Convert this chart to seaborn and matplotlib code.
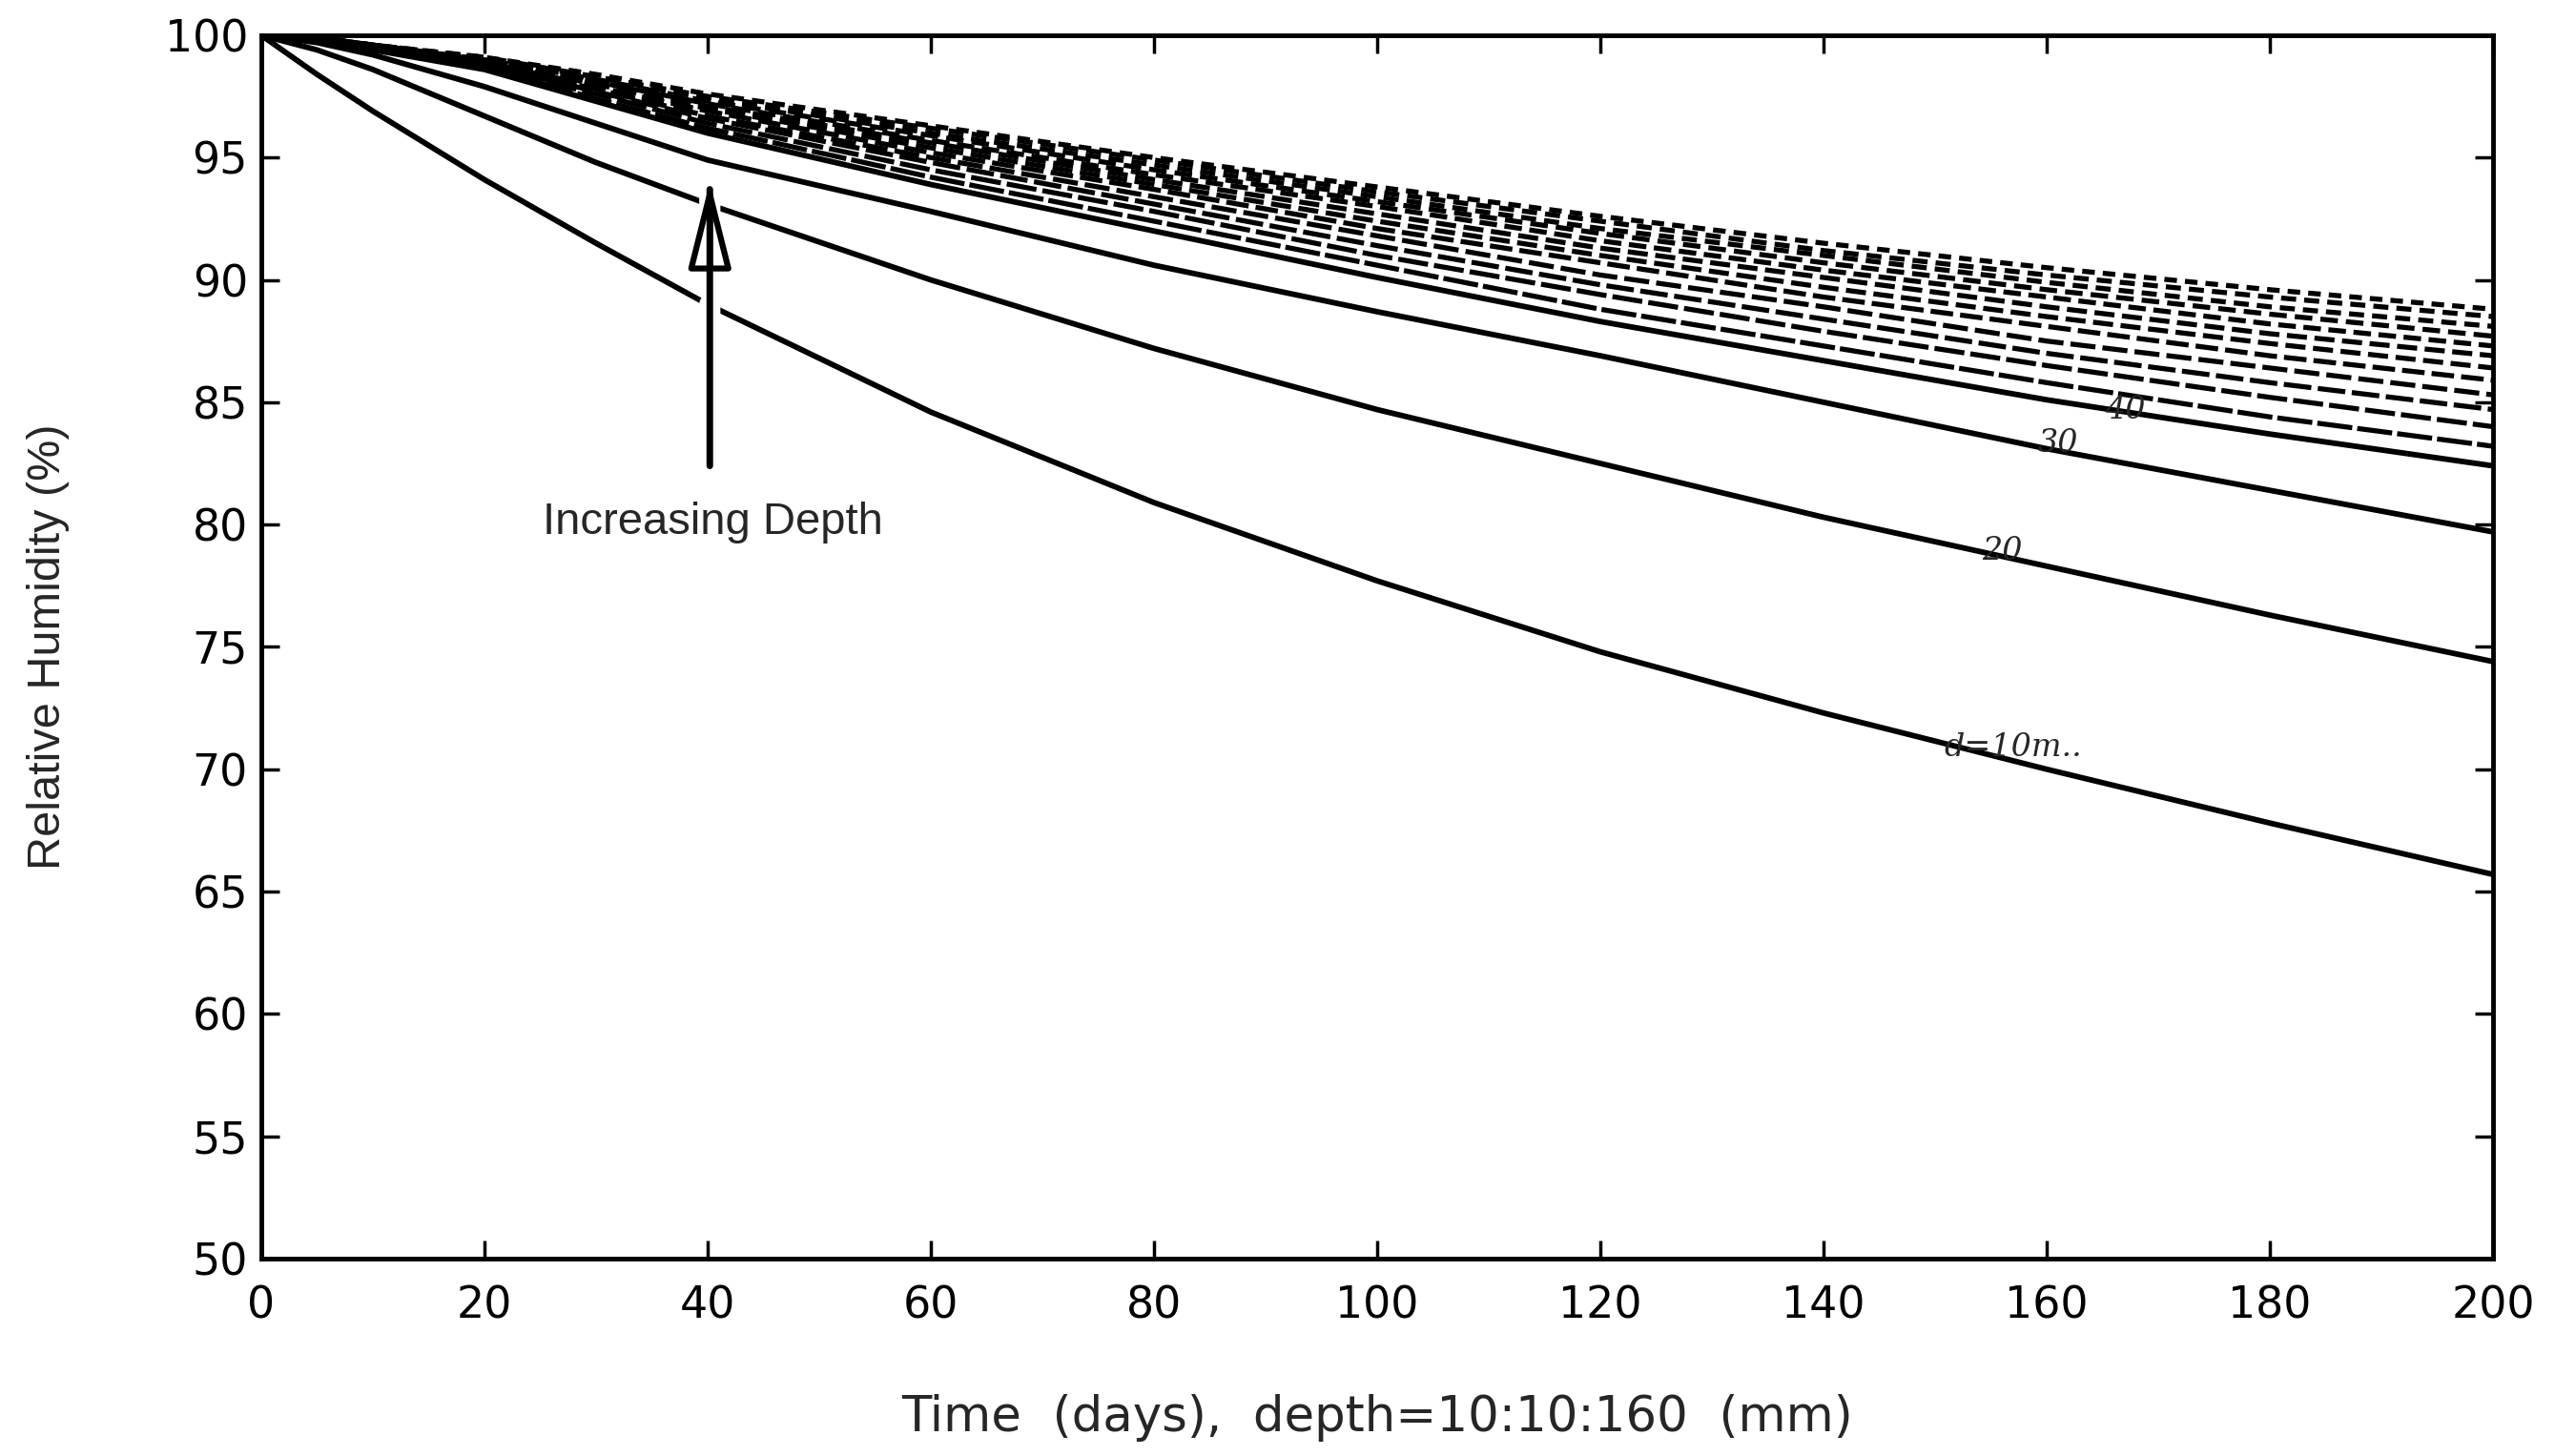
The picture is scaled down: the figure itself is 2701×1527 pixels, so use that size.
import matplotlib
matplotlib.use("Agg")
import matplotlib.pyplot as plt
import seaborn as sns
import pandas as pd

# ---- data ----
time_days = [0, 5, 10, 20, 30, 40, 60, 80, 100, 120, 140, 160, 180, 200]
depths_mm = [10, 20, 30, 40, 50, 60, 70, 80, 90, 100, 110, 120, 130, 140, 150, 160]

rh_d10  = [100, 98.4, 96.9, 94.1, 91.5, 89.0, 84.6, 80.9, 77.7, 74.8, 72.3, 70.0, 67.8, 65.7]
rh_d20  = [100, 99.4, 98.6, 96.7, 94.8, 93.1, 90.0, 87.2, 84.7, 82.5, 80.3, 78.3, 76.3, 74.4]
rh_d30  = [100, 99.7, 99.2, 97.9, 96.4, 94.9, 92.8, 90.6, 88.7, 86.9, 85.0, 83.1, 81.4, 79.7]
rh_d40  = [100, 99.8, 99.4, 98.6, 97.3, 96.0, 93.9, 92.0, 90.1, 88.3, 86.7, 85.1, 83.7, 82.4]
rh_d50  = [100, 99.8, 99.4, 98.7, 97.4, 96.2, 94.2, 92.4, 90.6, 88.8, 87.3, 85.8, 84.4, 83.2]
rh_d60  = [100, 99.8, 99.5, 98.7, 97.6, 96.4, 94.5, 92.8, 91.0, 89.4, 87.9, 86.5, 85.2, 84.0]
rh_d70  = [100, 99.8, 99.5, 98.8, 97.7, 96.6, 94.8, 93.1, 91.4, 89.8, 88.4, 87.0, 85.8, 84.7]
rh_d80  = [100, 99.8, 99.5, 98.8, 97.8, 96.7, 95.0, 93.4, 91.8, 90.2, 88.9, 87.5, 86.4, 85.3]
rh_d90  = [100, 99.8, 99.5, 98.9, 97.9, 96.9, 95.2, 93.7, 92.1, 90.7, 89.3, 88.1, 86.9, 85.9]
rh_d100 = [100, 99.8, 99.5, 98.9, 98.0, 97.0, 95.4, 93.9, 92.4, 91.0, 89.7, 88.5, 87.4, 86.4]
rh_d110 = [100, 99.8, 99.5, 99.0, 98.1, 97.1, 95.6, 94.1, 92.7, 91.3, 90.1, 88.9, 87.8, 86.9]
rh_d120 = [100, 99.9, 99.6, 99.0, 98.1, 97.2, 95.7, 94.3, 93.0, 91.6, 90.4, 89.3, 88.2, 87.3]
rh_d130 = [100, 99.9, 99.6, 99.0, 98.2, 97.3, 95.9, 94.5, 93.2, 91.9, 90.7, 89.6, 88.6, 87.7]
rh_d140 = [100, 99.9, 99.6, 99.0, 98.3, 97.4, 96.0, 94.7, 93.4, 92.1, 91.0, 89.9, 88.9, 88.1]
rh_d150 = [100, 99.9, 99.6, 99.1, 98.3, 97.5, 96.2, 94.9, 93.6, 92.4, 91.2, 90.2, 89.3, 88.5]
rh_d160 = [100, 99.9, 99.6, 99.1, 98.4, 97.6, 96.3, 95.0, 93.8, 92.6, 91.5, 90.5, 89.6, 88.8]

series = [rh_d10, rh_d20, rh_d30, rh_d40, rh_d50, rh_d60, rh_d70, rh_d80,
          rh_d90, rh_d100, rh_d110, rh_d120, rh_d130, rh_d140, rh_d150, rh_d160]

x_ticks = [0, 20, 40, 60, 80, 100, 120, 140, 160, 180, 200]
y_ticks = [50, 55, 60, 65, 70, 75, 80, 85, 90, 95, 100]

curve_labels = ["d=10m..", "20", "30", "40"]
curve_label_pos = [(157, 70.9), (156, 78.9), (161, 83.3), (167, 84.7)]

# ---- long-form table ----
rows = []
for d, vals in zip(depths_mm, series):
    for t, v in zip(time_days, vals):
        rows.append({"time": t, "rh": v, "depth": d})
df = pd.DataFrame(rows)

sns.set_theme(style="ticks")
plt.rcParams["font.family"] = ["DejaVu Sans"]

fig = plt.figure(figsize=(27.01, 15.27), dpi=100)
ax = fig.add_axes([0.1014, 0.1356, 0.8664, 0.8402])

dash_patterns = [(7, 1.0), (6, 1.2), (5.5, 1.3), (5, 1.4), (4.5, 1.4), (4, 1.5),
                 (4, 1.5), (3.5, 1.5), (3.5, 1.6), (3, 1.6), (3, 1.6), (2.5, 1.6)]
for i, d in enumerate(depths_mm):
    sub = df[df["depth"] == d]
    if i < 4:
        sns.lineplot(data=sub, x="time", y="rh", ax=ax, color="black",
                     linewidth=4.2, estimator=None, legend=False)
    else:
        line = sns.lineplot(data=sub, x="time", y="rh", ax=ax, color="black",
                            linewidth=3.8, estimator=None, legend=False).lines[-1]
        line.set_dashes(dash_patterns[i - 4])

ax.set_xlim(0, 200)
ax.set_ylim(50, 100)
ax.set_xticks(x_ticks)
ax.set_yticks(y_ticks)
ax.set_xticklabels([str(v) for v in x_ticks])
ax.set_yticklabels([str(v) for v in y_ticks])
ax.tick_params(direction="in", length=14, width=2.5, top=True, right=True,
               labelsize=33, colors="black")
ax.tick_params(axis="x", pad=20)
ax.tick_params(axis="y", pad=10)
for s in ax.spines.values():
    s.set_visible(True)
    s.set_linewidth(3.5)
    s.set_color("black")
ax.grid(False)

ax.set_xlabel("Time  (days),  depth=10:10:160  (mm)", fontsize=37, labelpad=50)
ax.set_ylabel("Relative Humidity (%)", fontsize=35, labelpad=72,
              family=["Liberation Sans", "DejaVu Sans"])

# arrow: white halo (gaps in crossed curves), shaft to the tip, hollow head
arrow_x, arrow_tip, arrow_tail = 40.2, 94.0, 82.4
ax.annotate("", xy=(arrow_x, 89.0), xytext=(arrow_x, 86.0),
            arrowprops=dict(arrowstyle="-", color="white", lw=16,
                            shrinkA=0, shrinkB=0))
ax.annotate("", xy=(arrow_x, 93.35), xytext=(arrow_x, 92.6),
            arrowprops=dict(arrowstyle="-", color="white", lw=16,
                            shrinkA=0, shrinkB=0))
ax.annotate("", xy=(arrow_x, arrow_tip - 0.3), xytext=(arrow_x, arrow_tail),
            arrowprops=dict(arrowstyle="-", color="black", lw=5,
                            shrinkA=0, shrinkB=0))
ax.annotate("", xy=(arrow_x, arrow_tip), xytext=(arrow_x, arrow_tip - 3.5),
            arrowprops=dict(arrowstyle="-|>,head_width=0.7,head_length=2.8",
                            mutation_scale=20, fc="none", ec="black", lw=4.5,
                            shrinkA=0, shrinkB=0))
ax.text(40.5, 80.1, "Increasing Depth", fontsize=34, ha="center", va="center",
        family=["Liberation Sans", "DejaVu Sans"])

for lab, (tx, ty) in zip(curve_labels, curve_label_pos):
    ax.text(tx, ty, lab, fontsize=24, style="italic", ha="center", va="center",
            family=["DejaVu Serif"])

fig.savefig("out.png", dpi=100, facecolor="white")
